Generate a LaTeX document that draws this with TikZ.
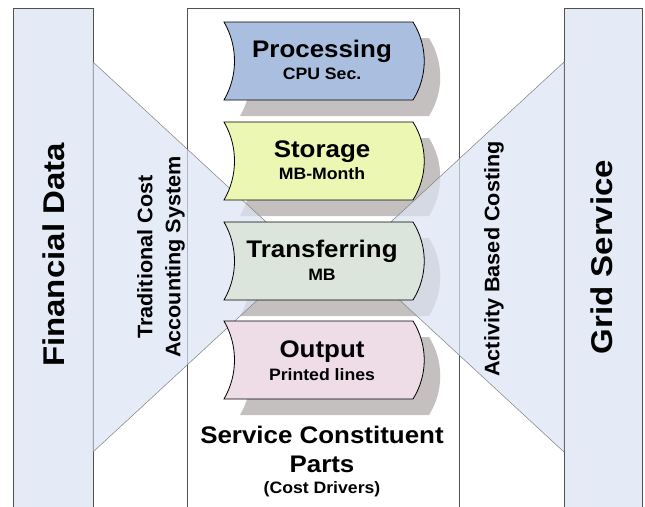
\documentclass[tikz,border=0pt]{standalone}
\usepackage{fontspec}
\setmainfont{Liberation Sans}
\newfontfamily\bigfont[FakeStretch=1.1]{Liberation Sans}
\newfontfamily\mainfont[FakeStretch=1.08]{Liberation Sans}
\newfontfamily\subfont[FakeStretch=1.07]{Liberation Sans}
\newfontfamily\sidefont[FakeStretch=1.03]{Liberation Sans}
\usetikzlibrary{calc}
\definecolor{colfill}{RGB}{228,235,246}
\definecolor{funnelfill}{RGB}{219,228,244}
\definecolor{framegray}{RGB}{80,80,80}
\definecolor{linegray}{RGB}{128,128,128}
\definecolor{shadowgray}{RGB}{196,192,192}
\definecolor{procfill}{RGB}{170,191,224}
\definecolor{storfill}{RGB}{235,247,178}
\definecolor{tranfill}{RGB}{220,229,220}
\definecolor{outfill}{RGB}{238,220,230}
\newcommand\tapepath[1]{(224,#1) -- (413,#1) .. controls (428,#1+24) and (428,#1+54) .. (413,#1+78) -- (224,#1+78) .. controls (238,#1+54) and (238,#1+24) .. (224,#1) -- cycle}
\tikzset{
  column/.style={draw=framegray, line width=0.8pt, fill=colfill},
  middlebox/.style={draw=framegray, line width=0.6pt, fill=white},
  funnel/.style={draw=linegray, line width=0.5pt, fill=funnelfill, fill opacity=0.7},
  tapeshadow/.style={fill=shadowgray, shift={(16,16)}},
  tape/.style={draw=black, line width=0.8pt},
  maintext/.style={anchor=base, inner sep=0pt, font=\mainfont\fontsize{24}{28}\selectfont\bfseries},
  subtext/.style={anchor=base, inner sep=0pt, font=\subfont\fontsize{16.5}{20}\selectfont\bfseries},
  biglabel/.style={rotate=90, inner sep=0pt, font=\bigfont\fontsize{30}{34}\selectfont\bfseries},
  sidelabel/.style={rotate=90, inner sep=0pt, align=center, font=\sidefont\fontsize{21}{28}\selectfont\bfseries},
}
\begin{document}
\begin{tikzpicture}[x=1pt, y=-1pt]
\useasboundingbox (0,0) rectangle (645,506);
\clip (0,0) rectangle (645,506);
\fill[white] (0,0) rectangle (645,506);
% columns and middle box
\draw[column] (13,8) rectangle (93,520);
\draw[column] (564,8) rectangle (642,520);
\draw[middlebox] (187,8) rectangle (459,520);
% shadows
\foreach \t in {22,122,222,321} { \fill[tapeshadow] \tapepath{\t}; }
% funnels
\coordinate (lt) at (93,62); \coordinate (lb) at (93,452); \coordinate (la) at (304,257);
\coordinate (rt) at (564,62); \coordinate (rb) at (564,452); \coordinate (ra) at (353,257);
\filldraw[funnel] (lt) -- (la) -- (lb) -- cycle;
\filldraw[funnel] (rt) -- (ra) -- (rb) -- cycle;
% tapes
\filldraw[tape, fill=procfill] \tapepath{22};
\filldraw[tape, fill=storfill] \tapepath{122};
\filldraw[tape, fill=tranfill] \tapepath{222};
\filldraw[tape, fill=outfill] \tapepath{321};
\node[maintext] (proc) at (322,57) {Processing};
\node[subtext] (cpu) at (322,79) {CPU Sec.};
\node[maintext] (stor) at (322,157) {Storage};
\node[subtext] (mbm) at (322,179) {MB-Month};
\node[maintext] (tran) at (322,257) {Transferring};
\node[subtext] (mb) at (322,280) {MB};
\node[maintext] (outp) at (322,357) {Output};
\node[subtext] (prl) at (322,380) {Printed lines};
% labels
\node[biglabel] (fin) at (54,255) {Financial Data};
\node[biglabel] (grid) at (602,257) {Grid Service};
\node[sidelabel] (tcas) at (161,257) {Traditional Cost\\Accounting System};
\node[sidelabel] (abc) at (494,259) {Activity Based Costing};
\node[maintext] (scp1) at (322,443) {Service Constituent};
\node[maintext] (scp2) at (322,472) {Parts};
\node[subtext] (cdr) at (322,493) {(Cost Drivers)};
\end{tikzpicture}
\end{document}
